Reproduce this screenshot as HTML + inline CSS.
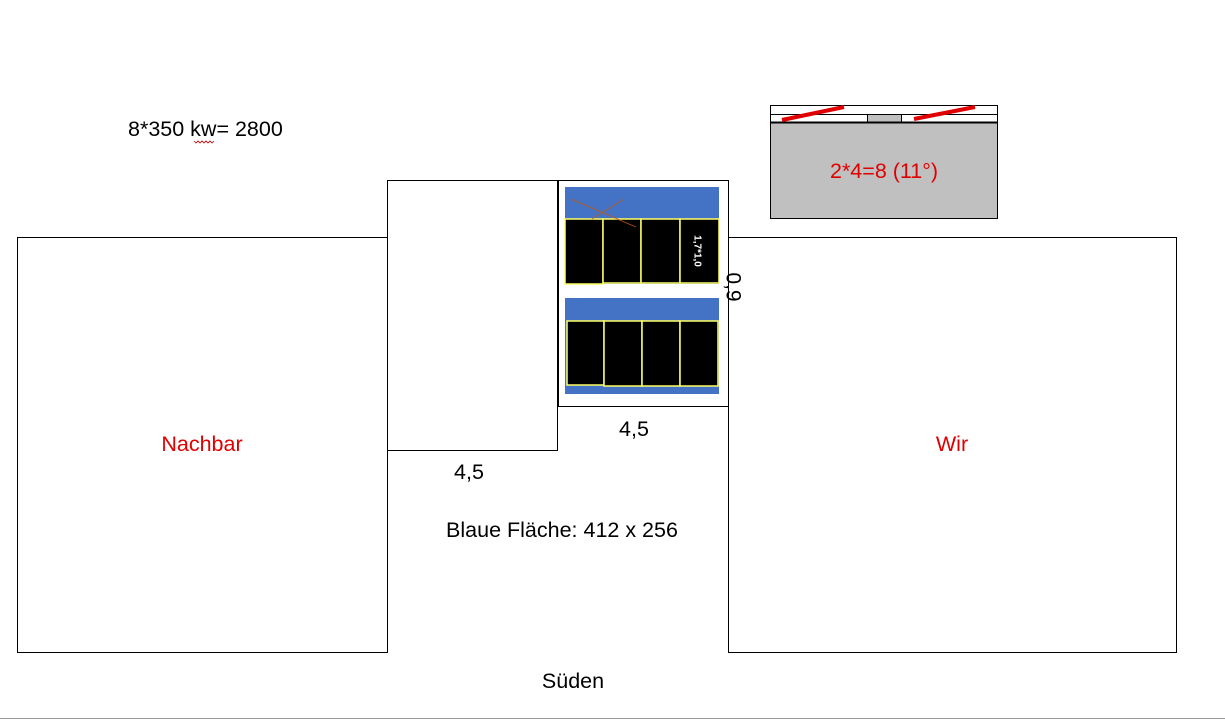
<!DOCTYPE html>
<html><head><meta charset="utf-8"><style>
html,body{margin:0;padding:0;background:#fff;}
svg{display:block;}
text{font-family:"Liberation Sans",sans-serif;}
</style></head><body>
<svg width="1225" height="720" viewBox="0 0 1225 720" xmlns="http://www.w3.org/2000/svg">
<rect width="1225" height="720" fill="#fff"/>
<g fill="none" stroke="#000" stroke-width="1">
<rect x="17.5" y="237.5" width="370" height="415"/>
<rect x="728.5" y="237.5" width="448" height="415"/>
<rect x="387.5" y="180.5" width="170" height="270"/>
<rect x="558" y="180.5" width="170.5" height="226"/>
</g>
<line x1="558" y1="180" x2="558" y2="407" stroke="#000" stroke-width="2"/>
<line x1="0" y1="718.5" x2="1225" y2="718.5" stroke="#999" stroke-width="1"/>
<rect x="565" y="187" width="154" height="97" fill="#4472c4"/>
<g fill="#000" stroke="#ffff66" stroke-width="1.5">
<rect x="565" y="219" width="38" height="65"/>
<rect x="603" y="219" width="38" height="64"/>
<rect x="641" y="219" width="39" height="64"/>
<rect x="680" y="219" width="39" height="64"/>
</g>
<line x1="571" y1="199" x2="636" y2="227" stroke="#c55a11" stroke-width="1" opacity="0.8"/>
<line x1="592" y1="219" x2="624" y2="199" stroke="#c55a11" stroke-width="1" opacity="0.8"/>
<text x="697" y="251" fill="#fff" font-size="10" font-weight="bold" font-family="Liberation Sans, sans-serif" text-anchor="middle" transform="rotate(90 697 251)" dominant-baseline="middle">1,7*1,0</text>
<rect x="565" y="298" width="154" height="96" fill="#4472c4"/>
<g fill="#000" stroke="#ffff66" stroke-width="1.5">
<rect x="567" y="321" width="37" height="64"/>
<rect x="604" y="321" width="38" height="65"/>
<rect x="642" y="321" width="38" height="65"/>
<rect x="680" y="321" width="38" height="65"/>
</g>
<text x="732" y="287" fill="#000" font-size="21" text-anchor="middle" dominant-baseline="middle" transform="rotate(90 732 287)">0,9</text>
<rect x="770.5" y="105.5" width="227" height="113" fill="#c0c0c0" stroke="#000"/>
<rect x="770.5" y="105.5" width="227" height="17" fill="#fff" stroke="#000"/>
<line x1="770" y1="114.5" x2="998" y2="114.5" stroke="#000"/>
<rect x="867.5" y="114.5" width="34" height="8" fill="#c0c0c0" stroke="#000"/>
<line x1="770" y1="122.5" x2="998" y2="122.5" stroke="#000" stroke-width="2"/>
<line x1="782" y1="120" x2="844" y2="107" stroke="#e00000" stroke-width="4"/>
<line x1="914" y1="119" x2="975" y2="107" stroke="#e00000" stroke-width="4"/>
<text x="884" y="178" fill="#e00000" font-size="21.5" text-anchor="middle">2*4=8 (11°)</text>
<text x="128" y="136" font-size="21.5">8*350 kw= 2800</text>
<path d="M194 141 l2 2 l2 -2 l2 2 l2 -2 l2 2 l2 -2 l2 2 l2 -2 l2 2 l2 -2" fill="none" stroke="#c00" stroke-width="0.8"/>
<text x="202" y="451" fill="#e00000" font-size="21.5" text-anchor="middle">Nachbar</text>
<text x="952" y="451" fill="#e00000" font-size="21.5" text-anchor="middle">Wir</text>
<text x="634" y="436" font-size="21.5" text-anchor="middle">4,5</text>
<text x="469" y="479" font-size="21.5" text-anchor="middle">4,5</text>
<text x="562" y="537" font-size="21.5" text-anchor="middle">Blaue Fläche: 412 x 256</text>
<text x="573" y="688" font-size="21.5" text-anchor="middle">Süden</text>
</svg>
</body></html>
